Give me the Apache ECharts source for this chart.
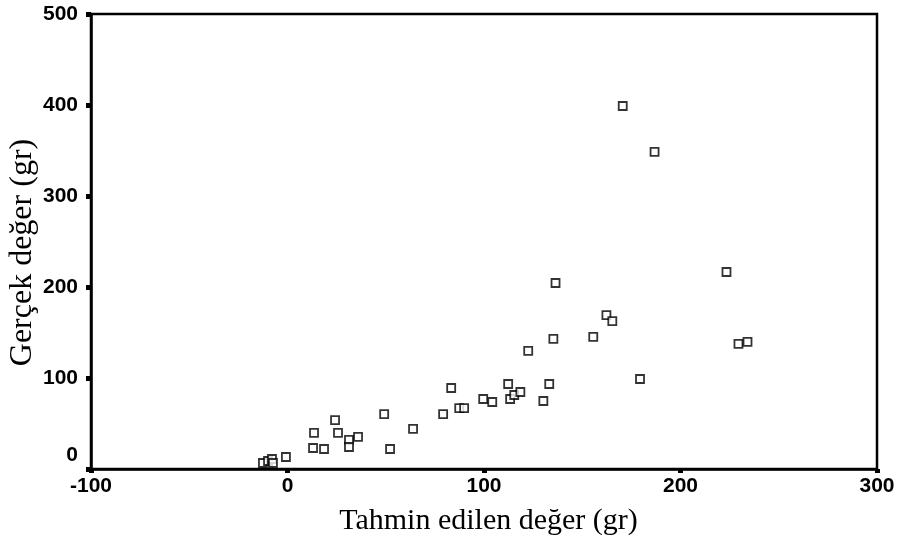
<!DOCTYPE html>
<html>
<head>
<meta charset="utf-8">
<script src="https://cdn.jsdelivr.net/npm/echarts@6/dist/echarts.min.js"></script>
<style>html,body{margin:0;padding:0;background:#fff}#c{width:900px;height:546px}</style>
</head>
<body>
<div id="c"></div>
<script>
// Predicted (x) vs actual (y) values, grams
const predicted = [-12.5, -9.9, -7.9, -7.4, -0.8, 13.0, 13.5, 18.6, 24.2, 25.7, 31.3, 31.3, 35.9, 49.2, 52.2, 63.9, 79.2, 83.3, 87.4, 89.9, 99.6, 104.2, 112.3, 113.3, 115.4, 118.5, 122.5, 130.2, 133.2, 135.3, 136.4, 155.6, 162.3, 165.3, 170.6, 179.4, 186.8, 223.4, 229.5, 234.1];
const actual    = [6.6, 8.8, 11.0, 6.6, 13.2, 23.1, 39.6, 22.0, 53.8, 39.6, 31.9, 24.2, 35.2, 60.4, 22.0, 44.0, 60.4, 89.0, 67.0, 67.0, 76.9, 73.6, 93.4, 76.9, 81.3, 84.6, 129.7, 74.7, 93.4, 142.9, 204.4, 145.1, 169.2, 162.6, 398.9, 98.9, 348.4, 216.5, 137.4, 139.6];
const xTicks = [-100, 0, 100, 200, 300];
const yTicks = [0, 100, 200, 300, 400, 500];
const xTitle = 'Tahmin edilen değer (gr)';
const yTitle = 'Gerçek değer (gr)';

const points = predicted.map((v, i) => [v, actual[i]]);
const chart = echarts.init(document.getElementById('c'), null, {renderer: 'canvas'});
const labelStyle = {color: '#000', fontFamily: 'Liberation Sans, Arial, sans-serif', fontSize: 21, fontWeight: 'bold'};
chart.setOption({
  animation: false,
  backgroundColor: '#fff',
  grid: {left: 91, right: 23, top: 14, bottom: 77, outerBoundsMode: 'none', containLabel: false,
         show: true, borderColor: '#000', borderWidth: 2.5, backgroundColor: 'transparent'},
  xAxis: {
    type: 'value', min: xTicks[0], max: xTicks[xTicks.length - 1], interval: 100,
    name: xTitle, nameLocation: 'middle', nameGap: 37,
    nameTextStyle: {color: '#000', fontFamily: 'Liberation Serif, Times New Roman, serif', fontSize: 30, padding: [0, 0, 0, 9]},
    axisLine: {show: true, onZero: false, lineStyle: {color: '#000', width: 2.5}},
    axisTick: {show: true, length: 4, inside: false, lineStyle: {color: '#000', width: 5}},
    axisLabel: Object.assign({margin: 7}, labelStyle),
    splitLine: {show: false}
  },
  yAxis: {
    type: 'value', min: yTicks[0], max: yTicks[yTicks.length - 1], interval: 100,
    name: yTitle, nameLocation: 'middle', nameGap: 52, nameMoveOverlap: false,
    nameTextStyle: {color: '#000', fontFamily: 'Liberation Serif, Times New Roman, serif', fontSize: 32, padding: [0, 22, 0, 0]},
    axisLine: {show: true, onZero: false, lineStyle: {color: '#000', width: 2.5}},
    axisTick: {show: true, length: 5, inside: false, lineStyle: {color: '#000', width: 5}},
    axisLabel: Object.assign({
      margin: 13,
      formatter: function (v) { return v === 0 ? '{z|0}' : String(v); },
      rich: {z: Object.assign({padding: [0, 0, 28, 0]}, labelStyle)}
    }, labelStyle),
    splitLine: {show: false}
  },
  series: [{
    type: 'scatter',
    data: points,
    symbol: 'rect',
    symbolSize: 8,
    itemStyle: {color: '#fff', borderColor: '#000', borderWidth: 1.8},
    emphasis: {disabled: true}
  }]
});
</script>
</body>
</html>
